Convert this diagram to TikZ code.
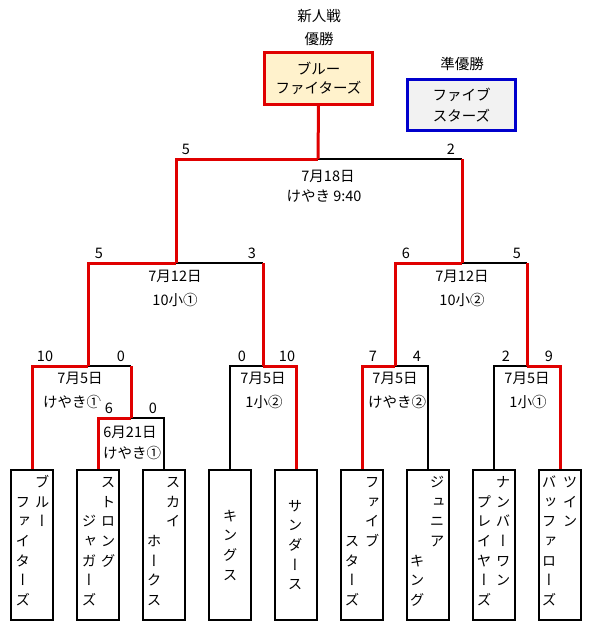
\documentclass[tikz,border=0pt]{standalone}
\usepackage{fontspec}
\newfontfamily\jp{Noto Sans CJK JP}
\newfontfamily\jpv[RawFeature=+vert]{Noto Sans CJK JP}
\definecolor{winred}{HTML}{E00000}
\definecolor{champfill}{HTML}{FFF2CC}
\definecolor{runfill}{HTML}{F2F2F2}
\definecolor{runblue}{HTML}{0000CC}
\tikzset{
  txt/.style={font=\jp\fontsize{14.5}{19}\selectfont, inner sep=0pt, text height=12.76pt, text depth=1.74pt},
  vch/.style={font=\jpv\fontsize{14.5}{19}\selectfont, inner sep=0pt, text height=12.76pt, text depth=1.74pt},
  team/.style={draw=black, line width=2.2pt, minimum width=42pt, minimum height=150pt, inner sep=0pt},
  win/.style={draw=winred, line width=3pt},
  lose/.style={draw=black, line width=2pt},
  champbox/.style={draw=winred, line width=3pt, fill=champfill, minimum width=108pt, minimum height=52pt, align=center, inner sep=0pt, font=\jp\fontsize{14.5}{19}\selectfont},
  runbox/.style={draw=runblue, line width=3pt, fill=runfill, minimum width=108pt, minimum height=51pt, align=center, inner sep=0pt, font=\jp\fontsize{14.5}{20.5}\selectfont},
}
\newcommand\colAt[4]{\foreach \c [count=\i from 0] in {#4}{\node[vch] (#1-\i) at (#2,{#3+19.67*\i}) {\c};}}
\begin{document}
\begin{tikzpicture}[x=1pt,y=-1pt]
\useasboundingbox (0,0) rectangle (594,622);
% team boxes
\foreach \n/\x in {1/32,2/98,3/164,4/230,5/296,6/362,7/428,8/494,9/560}
  \node[team] (t\n) at (\x,545) {};
% champion / runner-up
\node[txt] (title1) at (319,16) {新人戦};
\node[txt] (title2) at (319,39) {優勝};
\node[txt] (title3) at (462,64) {準優勝};
\node[champbox] (champ) at (318.5,78.5) {ブルー\\ファイターズ};
\node[runbox] (runner) at (461.5,105) {ファイブ\\スターズ};
% junctions
\coordinate (j0) at (131,418);
\coordinate (j1a) at (88,366);
\coordinate (c1ar) at (131,366);
\coordinate (j1b) at (263,366);
\coordinate (j1c) at (395,366);
\coordinate (j1d) at (527,366);
\coordinate (j2a) at (176,263);
\coordinate (c2ar) at (263,263);
\coordinate (j2b) at (462,263);
\coordinate (c2br) at (527,263);
\coordinate (jf) at (318,159);
\coordinate (cfr) at (462,159);
% losing segments
\draw[lose] (t3.north) |- (j0);
\draw[lose] (c1ar) -- (j1a);
\draw[lose] (t4.north) |- (j1b);
\draw[lose] (t7.north) |- (j1c);
\draw[lose] (t8.north) |- (j1d);
\draw[lose] (c2ar) -- (j2a);
\draw[lose] (c2br) -- (j2b);
\draw[lose] (cfr) -- (jf);
% winning segments
\draw[win] (t2.north) |- (j0);
\draw[win] (j0) -- (c1ar);
\draw[win] (t1.north) |- (j1a);
\draw[win] (t5.north) |- (j1b);
\draw[win] (t6.north) |- (j1c);
\draw[win] (t9.north) |- (j1d);
\draw[win] (j1a) |- (j2a);
\draw[win] (j1b) -- (c2ar);
\draw[win] (j1c) |- (j2b);
\draw[win] (j1d) -- (c2br);
\draw[win] (j2a) |- (jf);
\draw[win] (j2b) -- (cfr);
\draw[win] (jf) -- (champ.south);
% match info
\node[txt] (mf1) at (328,176) {7月18日};
\node[txt] (mf2) at (324,196) {けやき 9:40};
\node[txt] (m2a1) at (175,276) {7月12日};
\node[txt] (m2a2) at (175,300) {10小①};
\node[txt] (m2b1) at (462,276) {7月12日};
\node[txt] (m2b2) at (462,300) {10小②};
\node[txt] (m1a1) at (80,378) {7月5日};
\node[txt] (m1a2) at (72,402) {けやき①};
\node[txt] (m1b1) at (263,378) {7月5日};
\node[txt] (m1b2) at (264,402) {1小②};
\node[txt] (m1c1) at (395,378) {7月5日};
\node[txt] (m1c2) at (397,402) {けやき②};
\node[txt] (m1d1) at (527,378) {7月5日};
\node[txt] (m1d2) at (528,402) {1小①};
\node[txt] (m01) at (130,432) {6月21日};
\node[txt] (m02) at (132,453) {けやき①};
% scores
\node[txt] (sf1) at (186,149) {5};
\node[txt] (sf2) at (451,149) {2};
\node[txt] (s2a1) at (99,253) {5};
\node[txt] (s2a2) at (252,253) {3};
\node[txt] (s2b1) at (406,253) {6};
\node[txt] (s2b2) at (517,253) {5};
\node[txt] (s1a1) at (45,356) {10};
\node[txt] (s1a2) at (121,356) {0};
\node[txt] (s1b1) at (242,356) {0};
\node[txt] (s1b2) at (287,356) {10};
\node[txt] (s1c1) at (373,356) {7};
\node[txt] (s1c2) at (417,356) {4};
\node[txt] (s1d1) at (506,356) {2};
\node[txt] (s1d2) at (549,356) {9};
\node[txt, fill=white, minimum width=24pt] (s01) at (109,408) {6};
\node[txt] (s02) at (153,408) {0};
% team names (vertical)
\colAt{n1r}{42}{482}{ブ,ル,ー}
\colAt{n1l}{23}{501.65}{フ,ァ,イ,タ,ー,ズ}
\colAt{n2r}{108}{482}{ス,ト,ロ,ン,グ}
\colAt{n2l}{89}{521.3}{ジ,ャ,ガ,ー,ズ}
\colAt{n3r}{173}{482}{ス,カ,イ}
\colAt{n3l}{154}{541}{ホ,ー,ク,ス}
\colAt{n4}{230}{515.5}{キ,ン,グ,ス}
\colAt{n5}{295}{505.6}{サ,ン,ダ,ー,ス}
\colAt{n6r}{372}{482}{フ,ァ,イ,ブ}
\colAt{n6l}{352}{541}{ス,タ,ー,ズ}
\colAt{n7r}{437}{482}{ジ,ュ,ニ,ア}
\colAt{n7l}{417}{560.7}{キ,ン,グ}
\colAt{n8r}{503}{482}{ナ,ン,バ,ー,ワ,ン}
\colAt{n8l}{484}{501.65}{プ,レ,イ,ヤ,ー,ズ}
\colAt{n9r}{570}{482}{ツ,イ,ン}
\colAt{n9l}{549}{482}{バ,ッ,フ,ァ,ロ,ー,ズ}
\end{tikzpicture}
\end{document}
